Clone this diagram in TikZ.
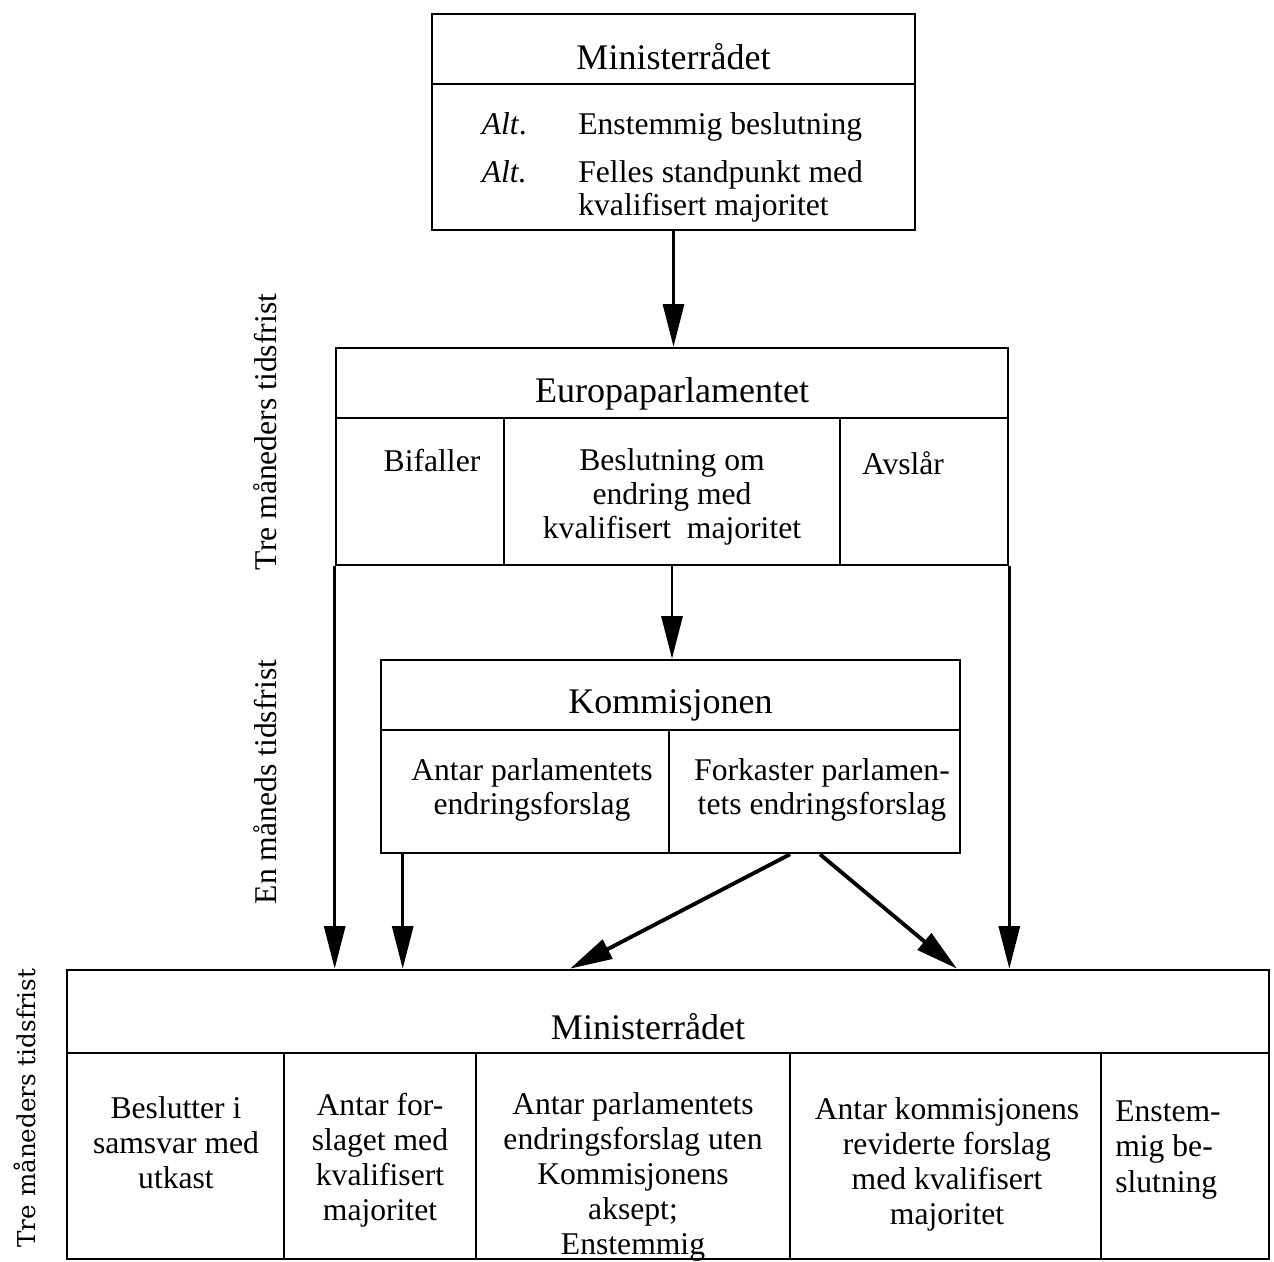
\documentclass[tikz,border=0pt]{standalone}
\usepackage{fontspec}
\setmainfont{Liberation Serif}
\newfontfamily\wideserif{DejaVu Serif}
\usetikzlibrary{arrows.meta}

\begin{document}
\begin{tikzpicture}[x=0.02cm, y=-0.02cm,
  box/.style = {draw, line width=1.5pt, inner sep=0pt},
  title/.style = {font=\fontsize{20.5}{24}\selectfont, inner sep=0pt},
  txt/.style = {font=\fontsize{18}{20}\selectfont, align=center, inner sep=0pt},
  arr/.style = {line width=1.6pt, -{Triangle[length=0.85cm, width=0.42cm]}},
  darr/.style = {arr, line width=2.2pt}]
\useasboundingbox (0,0) rectangle (1274,1261);
\clip (0,0) rectangle (1274,1261);

% Ministerraadet (top)
\node[box, minimum width=9.66cm, minimum height=1.4cm] (mt) at (673.5,49) {};
\node[box, minimum width=9.66cm, minimum height=2.92cm] (mb) at (673.5,157) {};
\node[title] (mtl) at (673.5,57) {Ministerrådet};
\node[txt, anchor=west] (v1) at (578,127) {Enstemmig beslutning};
\node[txt, anchor=west, align=left, font=\fontsize{18}{19}\selectfont] (v2) at (578,191.5) {Felles standpunkt med\\kvalifisert majoritet};
\node[txt, anchor=base east] (alt1) at ([xshift=-1.02cm]v1.base west) {\textit{Alt}.};
\node[txt, anchor=base east] (alt2) at ([yshift=-0.96cm]alt1.base east) {\textit{Alt.}};

% Europaparlamentet
\node[box, minimum width=13.44cm, minimum height=1.4cm] (et) at (672,383) {};
\node[box, minimum width=3.36cm, minimum height=2.94cm] (e1) at (420,491.5) {};
\node[box, minimum width=6.72cm, minimum height=2.94cm] (e2) at (672,491.5) {};
\node[box, minimum width=3.36cm, minimum height=2.94cm] (e3) at (924,491.5) {};
\node[title] (etl) at (672,394) {Europaparlamentet};
\node[txt] (bif) at (432,461) {Bifaller};
\node[txt, font=\fontsize{18}{19.5}\selectfont] (bes) at (672,497) {Beslutning om\\endring med\\kvalifisert\ \ majoritet};
\node[txt] (avs) at (903,463) {Avslår};

% Kommisjonen
\node[box, minimum width=11.58cm, minimum height=1.4cm] (kt) at (670.5,695) {};
\node[box, minimum width=5.76cm, minimum height=2.46cm] (k1) at (525,791.5) {};
\node[box, minimum width=5.82cm, minimum height=2.46cm] (k2) at (814.5,791.5) {};
\node[title] (ktl) at (670.5,705) {Kommisjonen};
\node[txt, font=\fontsize{18}{19.5}\selectfont] (ant) at (532,790) {Antar parlamentets\\endringsforslag};
\node[txt, font=\fontsize{18}{19.5}\selectfont] (fork) at (822,790) {Forkaster parlamen-\\tets endringsforslag};

% Ministerraadet (bottom)
\node[box, minimum width=24.04cm, minimum height=1.66cm] (bt) at (668,1011.5) {};
\node[box, minimum width=4.34cm, minimum height=4.12cm] (b1) at (175.5,1156) {};
\node[box, minimum width=3.84cm, minimum height=4.12cm] (b2) at (380,1156) {};
\node[box, minimum width=6.28cm, minimum height=4.12cm] (b3) at (633,1156) {};
\node[box, minimum width=6.22cm, minimum height=4.12cm] (b4) at (945.5,1156) {};
\node[box, minimum width=3.36cm, minimum height=4.12cm] (b5) at (1185,1156) {};
\node[title] (btl) at (648,1027) {Ministerrådet};
\node[txt] (c1) at (176,1143) {Beslutter i\\samsvar med\\utkast};
\node[txt] (c2) at (380,1160.5) {Antar for-\\slaget med\\kvalifisert\\majoritet};
\node[txt] (c3) at (633,1177) {Antar parlamentets\\endringsforslag uten\\Kommisjonens\\aksept;\\Enstemmig};
\node[txt] (c4) at (947,1164.5) {Antar kommisjonens\\reviderte forslag\\med kvalifisert\\majoritet};
\node[txt, align=left] (c5) at (1168,1150) {Enstem-\\mig be-\\slutning};

% tidsfrister
\node[txt, rotate=90] (tre1) at (265,432) {Tre måneders tidsfrist};
\node[txt, rotate=90] (en1) at (265,782) {En måneds tidsfrist};
\node[rotate=90, inner sep=0pt, font=\wideserif\fontsize{14}{16}\selectfont] (tre2) at (25,1108) {Tre måneders tidsfrist};

% piler
\draw[arr] (mb.south) -- (mb.south |- et.north);
\draw[arr] (e2.south) -- (e2.south |- kt.north);
\draw[arr] (e1.south west) -- (e1.south west |- bt.north);
\draw[arr] (e3.south east) -- (e3.south east |- bt.north);
\draw[arr] ([xshift=0.46cm]k1.south west) -- ([xshift=0.46cm]k1.south west |- bt.north);
\draw[darr] ([xshift=-0.49cm]k2.south) -- ([xshift=-1.96cm]bt.north);
\draw[darr] ([xshift=0.11cm]k2.south) -- ([xshift=5.78cm]bt.north);
\end{tikzpicture}
\end{document}
